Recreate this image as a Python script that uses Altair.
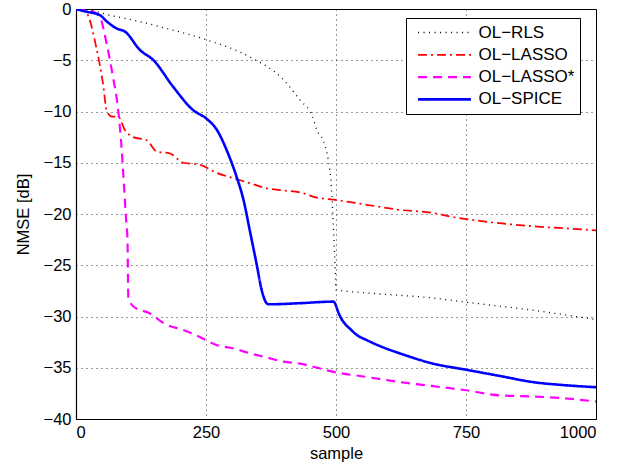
import altair as alt
import pandas as pd

# ---- data ----
rls_x = [0, 25, 65, 120, 174, 251, 335, 399, 431, 455, 463, 475, 485, 491, 495, 498, 500, 560, 687, 750, 880, 1000]
rls_y = [0, -0.1, -0.6, -1.2, -1.9, -3.0, -4.7, -6.9, -8.9, -10.5, -11.8, -12.8, -14.7, -17.3, -21.3, -24.8, -27.4, -27.7, -28.2, -28.6, -29.4, -30.3]

lasso_x = [0, 20, 40, 52, 59, 69, 81, 94, 110, 136, 155, 181, 206, 238, 271, 302, 335, 367, 399, 431, 463, 495, 559, 623, 687, 725, 751, 815, 879, 943, 1000]
lasso_y = [0, -0.4, -4.0, -7.3, -9.9, -10.5, -10.5, -11.8, -12.5, -12.8, -13.9, -14.1, -15.0, -15.2, -16.0, -16.5, -17.0, -17.5, -17.7, -17.9, -18.4, -18.6, -19.1, -19.6, -19.9, -20.3, -20.5, -20.9, -21.2, -21.4, -21.6]

lassos_x = [0, 30, 46, 59, 71, 81, 88, 92, 96, 99, 100.6, 110, 142, 174, 206, 238, 271, 302, 335, 367, 399, 431, 456, 495, 559, 623, 687, 751, 815, 879, 943, 1000]
lassos_y = [0, -0.2, -0.8, -3.4, -6.6, -9.8, -13.8, -17.0, -20.3, -22.5, -28.1, -29.0, -29.7, -30.8, -31.3, -32.0, -32.8, -33.1, -33.6, -34.0, -34.4, -34.6, -34.9, -35.4, -35.9, -36.4, -36.8, -37.2, -37.7, -37.8, -38.0, -38.3]

spice_x = [0, 20, 46, 59, 78, 94, 123, 149, 187, 226, 251, 271, 290, 309, 322, 335, 347, 357, 364, 370, 380, 431, 495, 498, 503, 508, 517, 527, 540, 559, 590, 623, 687, 751, 815, 879, 940, 1000]
spice_y = [0, -0.26, -0.6, -1.2, -1.9, -2.2, -4.0, -5.0, -7.6, -9.9, -10.7, -11.8, -13.8, -16.4, -18.6, -21.8, -24.8, -27.4, -28.5, -28.8, -28.8, -28.7, -28.55, -28.7, -29.4, -30.0, -30.7, -31.2, -31.8, -32.3, -33.0, -33.6, -34.6, -35.2, -35.8, -36.4, -36.7, -36.9]

names = ["OL\u2212RLS", "OL\u2212LASSO", "OL\u2212LASSO*", "OL\u2212SPICE"]
colors = ["#000000", "#ff0000", "#ff00ff", "#0000ff"]
dashes = [[1, 4.5], [9, 4, 2, 4], [9, 6], [1, 0]]
widths = [1.3, 2.6, 2.6, 2.6]

rows = []
for name, xs, ys in zip(names, [rls_x, lasso_x, lassos_x, spice_x], [rls_y, lasso_y, lassos_y, spice_y]):
    for x, y in zip(xs, ys):
        rows.append({"sample": x, "nmse": y, "series": name})
df = pd.DataFrame(rows)

FONT = "Liberation Sans"


def legend():
    return alt.Legend(title=None, orient="none", legendX=330, legendY=9,
                      symbolType="stroke", symbolSize=2800, symbolOffset=5,
                      clipHeight=18, rowPadding=4.3, padding=5.5,
                      labelFont=FONT, labelFontSize=17, labelColor="black",
                      labelOffset=6, strokeColor="black", fillColor="white",
                      labelLimit=200)


chart = alt.Chart(df).mark_line(clip=True, interpolate="monotone").encode(
    x=alt.X("sample:Q", scale=alt.Scale(domain=[0, 1000], nice=False),
            axis=alt.Axis(values=[0, 250, 500, 750, 1000], title="sample", format="d")),
    y=alt.Y("nmse:Q", scale=alt.Scale(domain=[-40, 0], nice=False),
            axis=alt.Axis(values=list(range(-40, 1, 5)), title="NMSE [dB]",
                          labelExpr="replace(datum.label, '-', '\u2212')")),
    color=alt.Color("series:N", scale=alt.Scale(domain=names, range=colors), legend=legend()),
    strokeDash=alt.StrokeDash("series:N", scale=alt.Scale(domain=names, range=dashes), legend=legend()),
    strokeWidth=alt.StrokeWidth("series:N", scale=alt.Scale(domain=names, range=widths), legend=legend()),
).properties(
    width=520, height=410,
    autosize=alt.AutoSizeParams(type="none"),
    padding={"left": 76, "top": 9, "right": 40, "bottom": 51},
).configure_view(
    stroke="black", strokeWidth=1
).configure_axis(
    labelFont=FONT, labelFontSize=16.5, labelColor="black",
    titleFont=FONT, titleFontSize=16.5, titleColor="black", titleFontWeight="normal",
    grid=True, gridColor="#000000", gridDash=[1, 4], gridOpacity=0.8, gridWidth=1,
    domainColor="black", domainWidth=1.2,
    ticks=False, labelPadding=5,
).configure_axisX(titlePadding=5).configure_axisY(titlePadding=12)

chart.save("out.html", embed_options={"renderer": "svg", "actions": False})
